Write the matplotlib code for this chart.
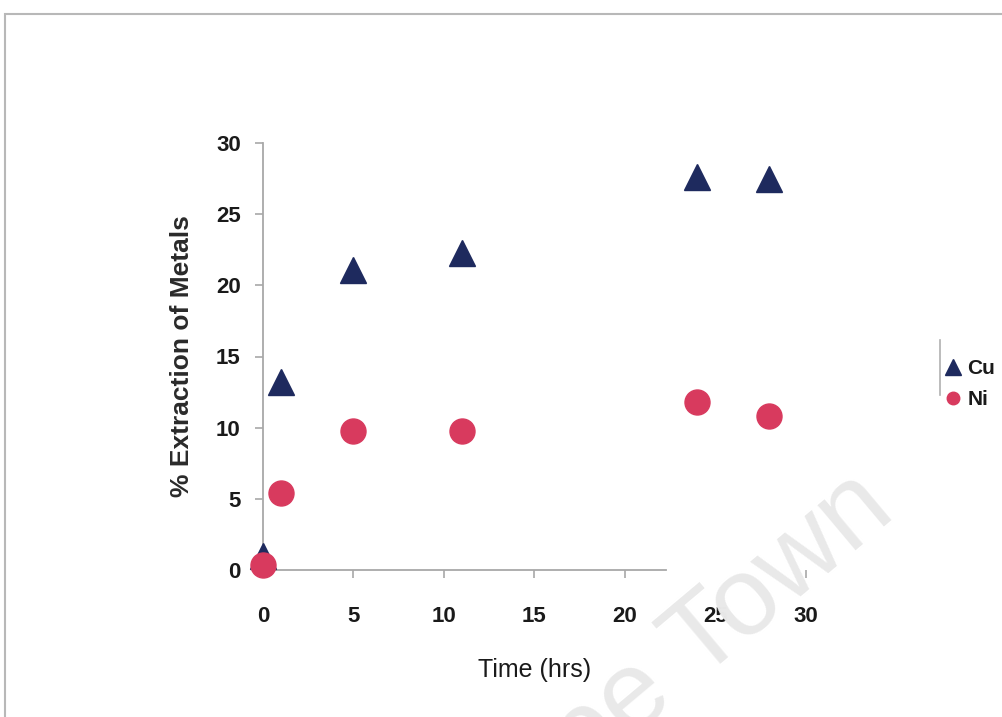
import matplotlib
matplotlib.use("Agg")
import matplotlib.pyplot as plt
from matplotlib.lines import Line2D
from matplotlib.patches import Rectangle

plt.rcParams['font.family'] = ['Liberation Sans', 'DejaVu Sans']

time_hrs = [0, 1, 5, 11, 24, 28]
cu_extraction = [1.0, 13.2, 21.1, 22.3, 27.6, 27.5]
ni_extraction = [0.35, 5.4, 9.8, 9.8, 11.8, 10.8]
x_ticks = [0, 5, 10, 15, 20, 25, 30]
y_ticks = [0, 5, 10, 15, 20, 25, 30]

cu_color = '#1e2a5e'
ni_color = '#d83a5e'
axis_gray = '#a8a8a8'
text_color = '#1a1a1a'

W, H = 1003, 717
fig = plt.figure(figsize=(W / 100, H / 100), dpi=100)
fig.patch.set_facecolor('white')

# outer frame (partially cut off at right/bottom)
fig.patches.append(Rectangle((5 / W, -0.1), 1.2, 1 - 14 / H + 0.1,
                             transform=fig.transFigure, fill=False,
                             edgecolor='#b8b8b8', linewidth=1.5))

# faint watermark
fig.text(898 / W, 1 - 515 / H, 'Cape Town', fontsize=80, color='#e9e9e9',
         rotation=40, ha='right', va='baseline', rotation_mode='anchor', zorder=0)

ax = fig.add_axes([263 / W, (H - 570) / H, 543 / W, 427 / H])
ax.patch.set_alpha(0)
ax.set_xlim(0, 30.02)
ax.set_ylim(0, 30)

ax.plot(time_hrs, cu_extraction, linestyle='none', marker='^', markersize=19,
        color=cu_color, clip_on=False, zorder=3, label='Cu')
ax.plot(time_hrs, ni_extraction, linestyle='none', marker='o', markersize=18,
        color=ni_color, clip_on=False, zorder=4, label='Ni')

for side in ['top', 'right']:
    ax.spines[side].set_visible(False)
for side in ['left', 'bottom']:
    ax.spines[side].set_color(axis_gray)
    ax.spines[side].set_linewidth(1.3)
ax.spines['bottom'].set_bounds(0, 22.3)

ax.set_xticks(x_ticks)
ax.set_yticks(y_ticks)
ax.tick_params(axis='both', colors=axis_gray, length=6, width=1.2, direction='out',
               labelcolor=text_color, labelsize=16)
ax.tick_params(axis='x', pad=20)
ax.tick_params(axis='y', pad=10)
ax.xaxis.get_major_ticks()[5].tick1line.set_visible(False)
for lbl in ax.get_xticklabels() + ax.get_yticklabels():
    lbl.set_fontweight('bold')

ax.set_xlabel('Time (hrs)', fontsize=18, color=text_color, labelpad=22)
ax.set_ylabel('% Extraction of Metals', fontsize=19, fontweight='bold',
              color='#2a2a2a', labelpad=16)

# legend
handles = [Line2D([], [], linestyle='none', marker='^', markersize=11, color=cu_color),
           Line2D([], [], linestyle='none', marker='o', markersize=9, color=ni_color)]
leg = fig.legend(handles, ['Cu', 'Ni'], loc='upper left',
                 bbox_to_anchor=(935 / W, 1 - 349 / H), frameon=False,
                 handlelength=0.7, handletextpad=0.35, labelspacing=0.55,
                 borderpad=0, fontsize=15)
for t in leg.get_texts():
    t.set_fontweight('bold')
    t.set_color(text_color)
fig.add_artist(Line2D([940 / W, 940 / W], [1 - 340 / H, 1 - 395 / H],
                      transform=fig.transFigure, color='#b0b0b0', linewidth=1.2))

fig.savefig('out.png', dpi=100)
